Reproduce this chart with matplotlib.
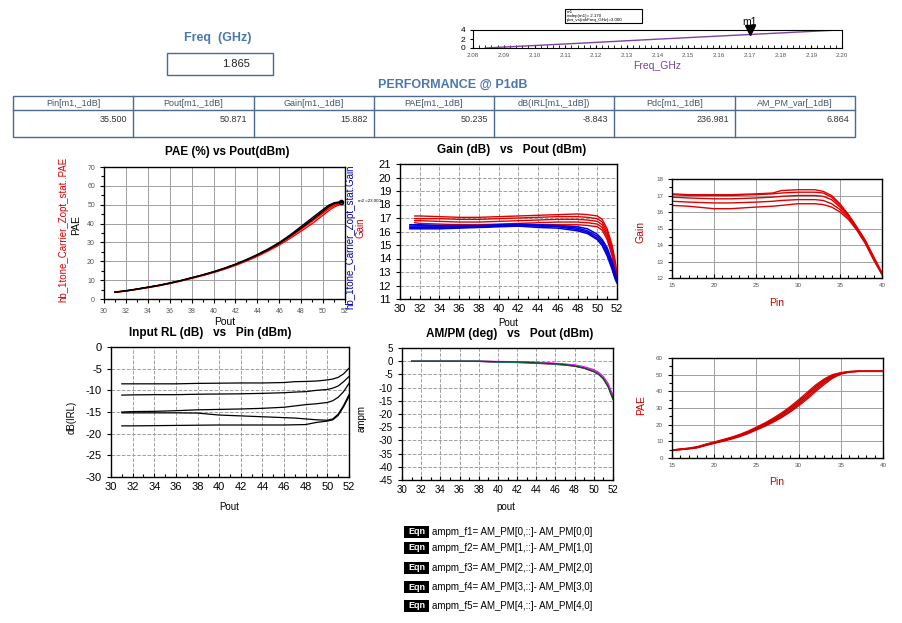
import matplotlib.pyplot as plt
from matplotlib.ticker import MultipleLocator
from matplotlib.patches import Rectangle

plt.rcParams['font.family'] = ['Liberation Sans', 'DejaVu Sans']
plt.rcParams['axes.unicode_minus'] = False

W, H = 902, 623

freq_ghz = '1.865'
sweep_freq = [2.084, 2.113, 2.141, 2.170, 2.199]
sweep_index = [0, 1, 2, 3, 4]
m1_freq = 2.170
m1_value = 3.000

perf_headers = ['Pin[m1,_1dB]', 'Pout[m1,_1dB]', 'Gain[m1,_1dB]', 'PAE[m1,_1dB]',
                'dB(IRL[m1,_1dB])', 'Pdc[m1,_1dB]', 'AM_PM_var[_1dB]']
perf_values = ['35.500', '50.871', '15.882', '50.235', '-8.843', '236.981', '6.864']

# PAE vs Pout
pae_pout = [31, 32, 33, 34, 35, 36, 37, 38, 39, 40, 41, 42, 43, 44, 45, 46, 47, 48,
            49, 50, 50.5, 51, 51.5, 51.8]
pae_red1 = [3.5, 4.2, 5.1, 6.0, 7.0, 8.2, 9.5, 10.9, 12.4, 14.0, 15.8, 17.8, 20.1, 22.6,
            25.5, 28.6, 32.2, 36.0, 40.0, 44.5, 46.8, 48.8, 50.0, 50.3]
pae_red2 = [3.6, 4.3, 5.2, 6.1, 7.1, 8.3, 9.6, 11.1, 12.6, 14.2, 16.0, 18.1, 20.4, 23.0,
            26.0, 29.3, 33.0, 37.0, 41.2, 45.6, 47.8, 49.6, 50.5, 50.6]
pae_red3 = [3.6, 4.3, 5.2, 6.2, 7.2, 8.4, 9.7, 11.2, 12.7, 14.4, 16.2, 18.3, 20.6, 23.3,
            26.3, 29.6, 33.5, 37.8, 42.0, 46.4, 48.6, 50.2, 50.9, 51.0]
pae_blk1 = [3.7, 4.4, 5.3, 6.3, 7.3, 8.5, 9.8, 11.3, 12.8, 14.5, 16.4, 18.5, 20.9, 23.6,
            26.6, 30.0, 34.0, 38.5, 43.0, 47.5, 49.7, 51.0, 51.5, 51.6]
pae_blk2 = [3.6, 4.3, 5.2, 6.2, 7.2, 8.4, 9.7, 11.2, 12.7, 14.3, 16.2, 18.3, 20.7, 23.3,
            26.2, 29.5, 33.4, 37.6, 42.0, 46.6, 49.0, 50.6, 51.3, 51.4]

# Gain vs Pout
gain_pout_red = [31.5, 32, 34, 36, 38, 40, 42, 44, 46, 48, 49, 50, 50.5, 51, 51.5, 51.8, 52]
gain_red = [
    [17.15, 17.15, 17.1, 17.05, 17.05, 17.1, 17.15, 17.2, 17.25, 17.3, 17.25, 17.15, 16.9, 16.2, 15.0, 13.9, 12.8],
    [16.95, 16.95, 16.95, 16.9, 16.9, 16.95, 17.0, 17.05, 17.1, 17.1, 17.05, 16.95, 16.7, 16.0, 14.8, 13.7, 12.6],
    [16.8, 16.8, 16.75, 16.7, 16.7, 16.75, 16.8, 16.85, 16.9, 16.9, 16.85, 16.75, 16.5, 15.8, 14.6, 13.5, 12.5],
    [16.65, 16.6, 16.55, 16.5, 16.5, 16.55, 16.6, 16.65, 16.7, 16.7, 16.65, 16.55, 16.3, 15.6, 14.4, 13.3, 12.4],
    [16.5, 16.45, 16.4, 16.35, 16.35, 16.4, 16.45, 16.5, 16.5, 16.5, 16.45, 16.35, 16.1, 15.4, 14.2, 13.1, 12.3],
]
gain_pout_blue = [31, 32, 34, 36, 38, 40, 42, 44, 46, 48, 49, 50, 50.5, 51, 51.5, 51.8, 52]
gain_blue = [
    [16.5, 16.5, 16.45, 16.45, 16.45, 16.5, 16.55, 16.5, 16.45, 16.35, 16.2, 15.8, 15.4, 14.8, 13.8, 13.0, 12.4],
    [16.4, 16.4, 16.4, 16.4, 16.4, 16.45, 16.5, 16.45, 16.4, 16.25, 16.05, 15.65, 15.25, 14.6, 13.6, 12.8, 12.3],
    [16.3, 16.3, 16.3, 16.3, 16.35, 16.4, 16.45, 16.4, 16.35, 16.15, 15.95, 15.5, 15.1, 14.4, 13.4, 12.6, 12.2],
    [16.2, 16.2, 16.2, 16.25, 16.3, 16.35, 16.4, 16.3, 16.25, 16.05, 15.85, 15.4, 14.95, 14.2, 13.2, 12.5, 12.2],
]

# Gain vs Pin
gpin = [15, 17, 20, 22, 25, 27, 28, 30, 32, 33, 34, 35, 36, 37, 38, 39, 40]
gain_pin = [
    [17.1, 17.05, 17.05, 17.05, 17.1, 17.15, 17.3, 17.35, 17.35, 17.25, 17.0, 16.5, 15.85, 15.1, 14.3, 13.3, 12.3],
    [17.05, 17.0, 17.0, 17.0, 17.05, 17.1, 17.15, 17.2, 17.2, 17.15, 16.9, 16.4, 15.8, 15.05, 14.25, 13.25, 12.3],
    [16.9, 16.85, 16.8, 16.8, 16.85, 16.9, 16.95, 17.0, 17.0, 16.95, 16.75, 16.3, 15.75, 15.0, 14.2, 13.2, 12.25],
    [16.65, 16.6, 16.55, 16.55, 16.6, 16.65, 16.7, 16.75, 16.75, 16.7, 16.5, 16.15, 15.65, 14.95, 14.15, 13.15, 12.25],
    [16.4, 16.35, 16.2, 16.2, 16.3, 16.35, 16.4, 16.5, 16.5, 16.45, 16.3, 16.0, 15.55, 14.9, 14.1, 13.1, 12.2],
]

# PAE vs Pin
ppin = [15, 16, 17, 18, 19, 20, 21, 22, 23, 24, 25, 26, 27, 28, 29, 30, 31, 32, 33, 34,
        35, 36, 37, 38, 40]
pae_pin = [
    [4.5, 5.0, 5.5, 6.1, 7.5, 8.8, 10.0, 11.3, 12.8, 14.6, 16.8, 19.0, 21.5, 24.3, 27.6,
     31.3, 35.3, 39.8, 44.0, 47.8, 50.3, 51.5, 52.0, 52.0, 52.0],
    [4.6, 5.1, 5.6, 6.3, 7.7, 9.0, 10.2, 11.6, 13.1, 15.0, 17.2, 19.5, 22.1, 25.0, 28.4,
     32.2, 36.3, 40.8, 45.0, 48.4, 50.6, 51.7, 52.0, 52.0, 52.0],
    [4.6, 5.2, 5.7, 6.4, 7.9, 9.2, 10.4, 11.8, 13.4, 15.3, 17.6, 20.0, 22.7, 25.7, 29.2,
     33.1, 37.3, 41.8, 45.8, 49.0, 50.8, 51.8, 52.0, 52.0, 52.0],
    [4.7, 5.3, 5.8, 6.6, 8.1, 9.4, 10.7, 12.1, 13.8, 15.7, 18.0, 20.5, 23.3, 26.4, 30.0,
     34.0, 38.3, 42.8, 46.6, 49.5, 51.0, 51.8, 52.0, 52.0, 52.0],
    [4.8, 5.4, 5.9, 6.8, 8.3, 9.6, 11.0, 12.4, 14.1, 16.1, 18.5, 21.0, 23.9, 27.1, 30.8,
     34.9, 39.3, 43.7, 47.3, 50.0, 51.2, 51.9, 52.0, 52.0, 52.0],
]

# Input RL vs Pout
irl_pout = [31, 32, 34, 36, 38, 40, 42, 44, 46, 47, 48, 49, 50, 50.5, 51, 51.5, 52]
irl = [
    [-8.5, -8.5, -8.5, -8.5, -8.4, -8.35, -8.3, -8.3, -8.2, -8.0, -7.95, -7.85, -7.6, -7.4, -7.0, -6.2, -4.9],
    [-11.1, -11.05, -11.0, -11.0, -10.9, -10.85, -10.8, -10.7, -10.55, -10.4, -10.3, -10.0, -9.8, -9.5, -9.0, -8.0, -6.8],
    [-15.0, -14.9, -14.85, -14.7, -14.5, -14.4, -14.3, -14.15, -13.9, -13.6, -13.3, -13.1, -12.8, -12.4, -11.6, -10.3, -8.4],
    [-15.2, -15.2, -15.2, -15.2, -15.25, -15.7, -15.9, -16.1, -16.3, -16.4, -16.6, -16.8, -16.9, -16.6, -15.5, -13.5, -11.0],
    [-18.2, -18.2, -18.15, -18.1, -18.05, -18.0, -18.0, -18.0, -18.0, -17.95, -17.9, -17.4, -17.1, -16.8, -15.8, -13.8, -11.4],
]

# AM/PM vs Pout
ampm_pout = [31, 34, 36, 38, 40, 42, 44, 45, 46, 47, 48, 49, 50, 50.5, 51, 51.5, 52]
ampm = [
    [0, 0, 0, 0, -0.2, -0.3, -0.5, -0.7, -0.9, -1.2, -1.6, -2.4, -3.6, -4.6, -6.3, -9.0, -13.5],
    [0, 0, 0, -0.1, -0.4, -0.5, -0.8, -1.0, -1.2, -1.5, -1.9, -2.7, -4.0, -5.0, -6.8, -9.8, -14.5],
    [0, 0, 0, 0, -0.1, -0.2, -0.4, -0.6, -0.8, -1.1, -1.4, -2.1, -3.2, -4.2, -5.8, -8.5, -13.0],
    [0, 0, 0, 0, -0.3, -0.4, -0.6, -0.8, -1.1, -1.3, -1.7, -2.5, -3.8, -4.8, -6.5, -9.4, -14.0],
    [0, 0, 0, 0, -0.2, -0.3, -0.6, -0.8, -1.0, -1.3, -1.8, -2.6, -3.9, -4.9, -6.6, -9.6, -14.2],
]
ampm_colors = ['#ff3366', '#800000', '#ff00ff', '#00cccc', '#204020']

eqn_rows = ['ampm_f1= AM_PM[0,::]- AM_PM[0,0]', 'ampm_f2= AM_PM[1,::]- AM_PM[1,0]',
            'ampm_f3= AM_PM[2,::]- AM_PM[2,0]', 'ampm_f4= AM_PM[3,::]- AM_PM[3,0]',
            'ampm_f5= AM_PM[4,::]- AM_PM[4,0]']

BLUE_TXT = '#4a78ad'

fig = plt.figure(figsize=(W / 100, H / 100), dpi=100)
fig.patch.set_facecolor('white')


def px_axes(x0, y0, x1, y1):
    return fig.add_axes([x0 / W, 1 - y1 / H, (x1 - x0) / W, (y1 - y0) / H])


def ftext(x, y, s, **kw):
    kw.setdefault('ha', 'center')
    kw.setdefault('va', 'center')
    fig.text(x / W, 1 - y / H, s, **kw)


def style_axes(ax, tick_fs, tick_color='black', grid_ls='-', xin=True):
    ax.tick_params(axis='both', which='both', labelsize=tick_fs, labelcolor=tick_color,
                   width=0.8)
    ax.tick_params(axis='x', which='both', direction='in' if xin else 'out')
    ax.tick_params(axis='y', which='both', direction='out')
    ax.tick_params(which='major', length=3)
    ax.tick_params(which='minor', length=2)
    ax.grid(True, which='major', color='#a0a0a0', linestyle=grid_ls, linewidth=0.7)
    for s in ax.spines.values():
        s.set_linewidth(1.0)
        s.set_color('black')


# ---- overlay for boxes and table ----
ov = fig.add_axes([0, 0, 1, 1], zorder=-1)
ov.set_xlim(0, W)
ov.set_ylim(H, 0)
ov.axis('off')

ftext(218, 38, 'Freq  (GHz)', fontsize=9, fontweight='bold', color=BLUE_TXT)
ov.add_patch(Rectangle((167, 53), 106, 22, fill=False, edgecolor='#4a6a90', lw=1))
ftext(250, 64, freq_ghz, fontsize=8, ha='right', color='#222222')

ftext(453, 85, 'PERFORMANCE @ P1dB', fontsize=9, fontweight='bold', color=BLUE_TXT)

# table
tx0, tx1, ty0, ty1, ty2 = 13, 855, 96, 110, 137
ncol = len(perf_headers)
cw = (tx1 - tx0) / ncol
ov.add_patch(Rectangle((tx0, ty0), tx1 - tx0, ty2 - ty0, fill=False, edgecolor='#4a6a90', lw=1))
ov.plot([tx0, tx1], [ty1, ty1], color='#4a6a90', lw=1)
for i in range(ncol):
    cx = tx0 + i * cw
    if i > 0:
        ov.plot([cx, cx], [ty0, ty2], color='#4a6a90', lw=1)
    ftext(cx + cw / 2, 103, perf_headers[i], fontsize=6.5, color='#445566')
    ftext(cx + cw - 6, 120, perf_values[i], fontsize=6.5, color='#333333', ha='right')

# ---- frequency slider plot ----
ax = px_axes(473, 30, 842, 48)
ax.plot(sweep_freq, sweep_index, color='#8040a0', lw=1)
ax.set_xlim(2.08, 2.20)
ax.set_ylim(0, 4)
ax.set_xticks([2.08 + 0.01 * i for i in range(13)])
ax.set_xticklabels(['%.2f' % (2.08 + 0.01 * i) for i in range(13)])
ax.xaxis.set_minor_locator(MultipleLocator(0.002))
ax.set_yticks([0, 2, 4])
ax.tick_params(axis='x', which='both', labelsize=4.5, labelcolor='#555555', direction='in', length=2)
ax.tick_params(axis='y', labelsize=6, length=2)
ax.plot([m1_freq], [4], marker='v', color='black', markersize=7, clip_on=False)
ax.text(m1_freq, 4.6, 'm1', fontsize=7.5, ha='center', va='bottom')
ax.set_xlabel('Freq_GHz', fontsize=7.5, color='#8040a0', labelpad=2)
ov.add_patch(Rectangle((565, 9), 77, 14, fill=True, facecolor='white', edgecolor='black', lw=0.8))
ftext(567, 16, 'm1\nindep(m1)= 2.170\nplot_vs(mkFreq_GHz)=%.3f' % m1_value,
      fontsize=3.2, ha='left', linespacing=1.0)

# ---- PAE vs Pout ----
ax = px_axes(104, 167, 345, 299)
for y in [pae_red1, pae_red2, pae_red3]:
    ax.plot(pae_pout, y, color='red', lw=1)
for y in [pae_blk1, pae_blk2]:
    ax.plot(pae_pout, y, color='black', lw=1)
ax.set_xlim(30, 52)
ax.set_ylim(0, 70)
ax.xaxis.set_major_locator(MultipleLocator(2))
ax.xaxis.set_minor_locator(MultipleLocator(1))
ax.yaxis.set_major_locator(MultipleLocator(10))
ax.yaxis.set_minor_locator(MultipleLocator(5))
style_axes(ax, 5, '#555555', '-', xin=False)
ftext(227, 152, 'PAE (%) vs Pout(dBm)', fontsize=8.5, fontweight='bold')
ftext(225, 322, 'Pout', fontsize=7.5)
ftext(63, 229, 'hb_1tone_Carrier_Zopt_stat..PAE', fontsize=7, color='#dd0000', rotation=90)
ftext(76, 225, 'PAE', fontsize=7.5, rotation=90)
ax.plot([51.6], [51.5], marker='o', ms=3, mfc='none', mec='black', clip_on=False)
ftext(358, 201, 'm2 =23.000', fontsize=3.2, ha='left')

# ---- Gain vs Pout ----
ax = px_axes(400, 164, 617, 299)
for y in gain_red:
    ax.plot(gain_pout_red, y, color='#e00000', lw=1)
for y in gain_blue:
    ax.plot(gain_pout_blue, y, color='#0000e0', lw=1.1)
ax.set_xlim(30, 52)
ax.set_ylim(11, 21)
ax.xaxis.set_major_locator(MultipleLocator(2))
ax.xaxis.set_minor_locator(MultipleLocator(1))
ax.yaxis.set_major_locator(MultipleLocator(1))
style_axes(ax, 8, 'black', '--', xin=True)
ftext(512, 150, 'Gain (dB)   vs   Pout (dBm)', fontsize=8.5, fontweight='bold')
ftext(508, 323, 'Pout', fontsize=7)
ftext(350, 237, 'hb_1tone_Carrier_Zopt_stat.Gain', fontsize=7, color='#0000aa', rotation=90)
ftext(361, 228, 'Gain', fontsize=7, color='#dd0000', rotation=90)

# ---- Gain vs Pin ----
ax = px_axes(672, 179, 882, 278)
for y in gain_pin:
    ax.plot(gpin, y, color='#e00000', lw=1)
ax.set_xlim(15, 40)
ax.set_ylim(12, 18)
ax.xaxis.set_major_locator(MultipleLocator(5))
ax.xaxis.set_minor_locator(MultipleLocator(1))
ax.yaxis.set_major_locator(MultipleLocator(1))
ax.yaxis.set_minor_locator(MultipleLocator(0.5))
style_axes(ax, 4.5, '#555555', '-', xin=True)
ftext(641, 232, 'Gain', fontsize=7.5, color='#cc0000', rotation=90)
ftext(777, 303, 'Pin', fontsize=7.5, color='#cc0000')

# ---- Input RL vs Pout ----
ax = px_axes(111, 347, 349, 477)
for y in irl:
    ax.plot(irl_pout, y, color='black', lw=0.9)
ax.set_xlim(30, 52)
ax.set_ylim(-30, 0)
ax.xaxis.set_major_locator(MultipleLocator(2))
ax.xaxis.set_minor_locator(MultipleLocator(1))
ax.yaxis.set_major_locator(MultipleLocator(5))
style_axes(ax, 8, 'black', '--', xin=True)
ftext(210, 333, 'Input RL (dB)   vs   Pin (dBm)', fontsize=8.5, fontweight='bold')
ftext(229, 507, 'Pout', fontsize=7)
ftext(72, 417, 'dB(IRL)', fontsize=7, rotation=90)

# ---- AM/PM vs Pout ----
ax = px_axes(402, 348, 613, 480)
for y, c in zip(ampm, ampm_colors):
    ax.plot(ampm_pout, y, color=c, lw=0.9)
ax.set_xlim(30, 52)
ax.set_ylim(-45, 5)
ax.xaxis.set_major_locator(MultipleLocator(2))
ax.xaxis.set_minor_locator(MultipleLocator(1))
ax.yaxis.set_major_locator(MultipleLocator(5))
style_axes(ax, 7, 'black', '--', xin=True)
ftext(510, 334, 'AM/PM (deg)   vs   Pout (dBm)', fontsize=8.5, fontweight='bold')
ftext(506, 507, 'pout', fontsize=7)
ftext(362, 418, 'ampm', fontsize=7, rotation=90)

# ---- PAE vs Pin ----
ax = px_axes(672, 358, 883, 458)
for i, y in enumerate(pae_pin):
    ax.plot(ppin, y, color='#e00000' if i % 2 == 0 else '#b00000', lw=1)
ax.set_xlim(15, 40)
ax.set_ylim(0, 60)
ax.xaxis.set_major_locator(MultipleLocator(5))
ax.xaxis.set_minor_locator(MultipleLocator(1))
ax.yaxis.set_major_locator(MultipleLocator(10))
ax.yaxis.set_minor_locator(MultipleLocator(5))
style_axes(ax, 4.5, '#555555', '-', xin=True)
ftext(641, 405, 'PAE', fontsize=7.5, color='#cc0000', rotation=90)
ftext(777, 482, 'Pin', fontsize=7.5, color='#cc0000')

# ---- equations ----
for yy, s in zip([532, 548, 568, 587, 606], eqn_rows):
    ov.add_patch(Rectangle((404, yy - 6), 25, 12, facecolor='black', edgecolor='none'))
    ftext(416.5, yy, 'Eqn', fontsize=6.5, color='white', fontweight='bold')
    ftext(432, yy, s, fontsize=7, ha='left')

fig.savefig('out.png', dpi=100)
